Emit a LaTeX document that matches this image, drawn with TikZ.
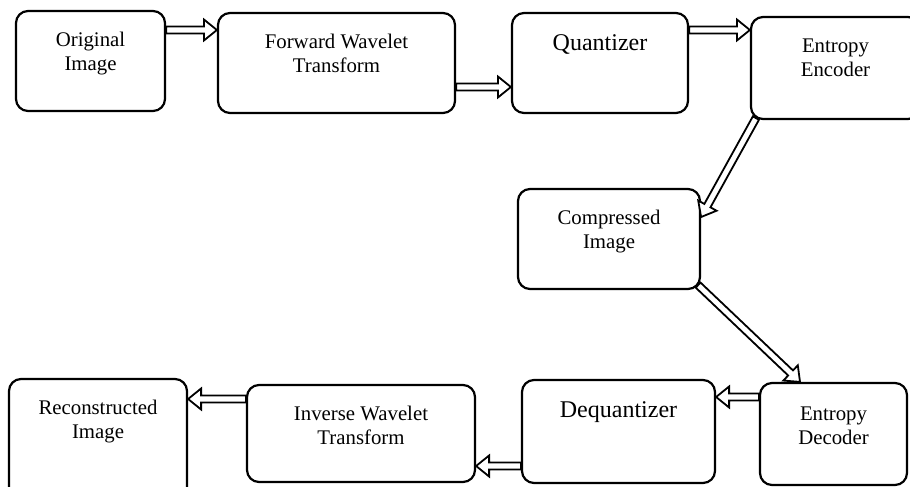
\documentclass[tikz,border=0pt]{standalone}
\usepackage{fontspec}
\setmainfont{Liberation Serif}
\usetikzlibrary{calc}
\tikzset{
  box/.style={draw, line width=2.2pt, rounded corners=12pt, inner sep=0pt},
  lbl/.style={anchor=north, align=center, inner sep=0pt, font=\fontsize{20.8}{24.5}\selectfont},
  biglbl/.style={lbl, font=\fontsize{24}{28}\selectfont},
  barrow/.style={draw, line width=1.8pt, fill=white, line join=miter,
    to path={let \p1=(\tikztostart), \p2=(\tikztotarget) in
      ($(\p1)!3.5pt!90:(\p2)$) --
      ($(\p2)!13pt!(\p1)!3.5pt!-90:(\p1)$) --
      ($(\p2)!13pt!(\p1)!10.5pt!-90:(\p1)$) --
      (\p2) --
      ($(\p2)!13pt!(\p1)!10.5pt!90:(\p1)$) --
      ($(\p2)!13pt!(\p1)!3.5pt!90:(\p1)$) --
      ($(\p1)!3.5pt!-90:(\p2)$) -- cycle}}
}
\begin{document}
\begin{tikzpicture}[x=1pt, y=-1pt]
\useasboundingbox (0,0) rectangle (910,487);
% boxes
\node[box, minimum width=149pt, minimum height=100pt] (o)  at (90.5,61) {};
\node[box, minimum width=237pt, minimum height=100pt] (f)  at (336.5,63) {};
\node[box, minimum width=176pt, minimum height=100pt] (q)  at (600,63) {};
\node[box, minimum width=169pt, minimum height=102pt] (ee) at (835.5,68) {};
\node[box, minimum width=182pt, minimum height=100pt] (c)  at (609,239) {};
\node[box, minimum width=147pt, minimum height=102pt] (ed) at (833.5,434) {};
\node[box, minimum width=193pt, minimum height=103pt] (dq) at (618.5,431.5) {};
\node[box, minimum width=228pt, minimum height=97pt]  (iw) at (361,433.5) {};
\node[box, minimum width=178pt, minimum height=121pt] (r)  at (98,439.5) {};
% labels
\node[lbl] (ot)  at ($(o.north)+(0,21.5)$)  {Original\\Image};
\node[lbl] (ft)  at ($(f.north)+(0,21.5)$)  {Forward Wavelet\\Transform};
\node[biglbl] (qt) at ($(q.north)+(0,23)$) {Quantizer};
\node[lbl] (eet) at ($(ee.north)+(0,22.5)$) {Entropy\\Encoder};
\node[lbl] (ct)  at ($(c.north)+(0,21.5)$)  {Compressed\\Image};
\node[lbl] (edt) at ($(ed.north)+(0,24.5)$) {Entropy\\Decoder};
\node[biglbl] (dqt) at ($(dq.north)+(0,23)$) {Dequantizer};
\node[lbl] (iwt) at ($(iw.north)+(0,21.5)$) {Inverse Wavelet\\Transform};
\node[lbl] (rt)  at ($(r.north)+(0,21.5)$)  {Reconstructed\\Image};
% arrows
\draw[barrow] (o.east |- 0,30) to (f.west |- 0,30);
\draw[barrow] (f.east |- 0,87) to (q.west |- 0,87);
\draw[barrow] (q.east |- 0,30) to (ee.west |- 0,30);
\draw[barrow] ([xshift=6pt,yshift=2pt]ee.south west) to (c.east |- 0,217);
\draw[barrow] ([xshift=-3pt,yshift=5pt]c.south east) to (800,0 |- ed.north);
\draw[barrow] (ed.west |- 0,397) to (dq.east |- 0,397);
\draw[barrow] (dq.west |- 0,466) to (iw.east |- 0,466);
\draw[barrow] (iw.west |- 0,399) to (r.east |- 0,399);
\end{tikzpicture}
\end{document}
